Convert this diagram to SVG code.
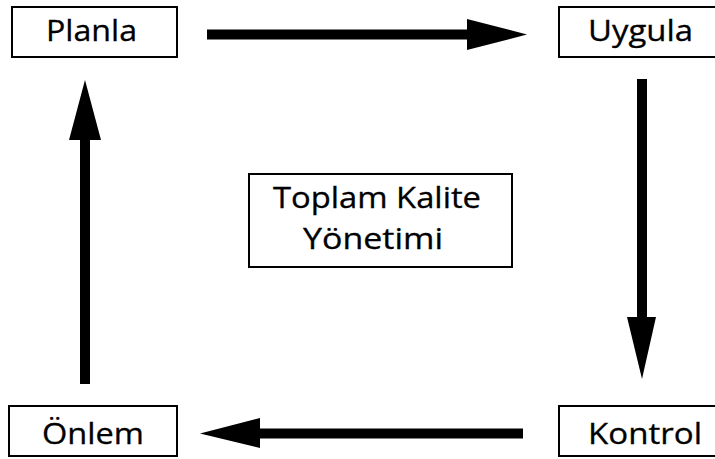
<svg xmlns="http://www.w3.org/2000/svg" width="715" height="459" viewBox="0 0 715 459">
<style>
.box{fill:#fff;stroke:#000;stroke-width:2}
.t{font-family:"Open Sans","Noto Sans","Liberation Sans",sans-serif;font-size:29px;fill:#000;stroke:#000;stroke-width:0.3}
</style>
<rect width="715" height="459" fill="#fff"/>
<g id="planla">
<rect class="box" x="12" y="7" width="165" height="50"/>
<text class="t" x="46" y="41" textLength="91" lengthAdjust="spacingAndGlyphs">Planla</text>
</g>
<g id="uygula">
<rect class="box" x="559" y="7" width="170" height="50"/>
<text class="t" x="588" y="41" textLength="105" lengthAdjust="spacingAndGlyphs">Uygula</text>
</g>
<g id="kontrol">
<rect class="box" x="559" y="406" width="170" height="50"/>
<text class="t" x="588" y="444" textLength="114" lengthAdjust="spacingAndGlyphs">Kontrol</text>
</g>
<g id="onlem">
<rect class="box" x="9" y="406" width="168" height="50"/>
<text class="t" x="42" y="444" textLength="102" lengthAdjust="spacingAndGlyphs">Önlem</text>
</g>
<g id="tkm">
<rect class="box" x="249" y="174" width="263" height="93"/>
<text class="t" x="273" y="208" textLength="208" lengthAdjust="spacingAndGlyphs">Toplam Kalite</text>
<text class="t" x="303" y="249" textLength="140" lengthAdjust="spacingAndGlyphs">Yönetimi</text>
</g>
<g id="connectors" fill="#000">
<path d="M207 29.5 H467 V19 L527 34.5 L467 50 V39.5 H207 Z"/>
<path d="M637 79 V317 H627 L642 379 L656 317 H647 V79 Z"/>
<path d="M523 428.5 H260 V418 L200 433.5 L260 448 V438.5 H523 Z"/>
<path d="M80 384 V140 H69 L85 80 L101 140 H90 V384 Z"/>
</g>
</svg>
